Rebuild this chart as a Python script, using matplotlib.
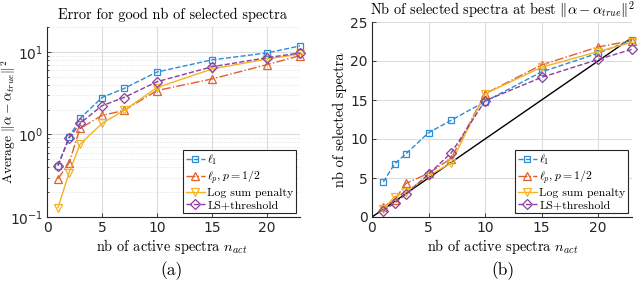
import matplotlib
matplotlib.use("Agg")
import matplotlib.pyplot as plt
import numpy as np

plt.rcParams['mathtext.fontset'] = 'cm'
plt.rcParams['font.family'] = ['DejaVu Sans']
plt.rcParams['axes.unicode_minus'] = False

n_act = [1, 2, 3, 5, 7, 10, 15, 20, 23]

# (a) average error (log scale)
err_l1 = [0.42, 0.92, 1.56, 2.8, 3.6, 5.7, 8.0, 9.7, 11.8]
err_lp = [0.29, 0.45, 1.18, 1.7, 1.95, 3.4, 4.7, 7.0, 9.0]
err_logsum = [0.13, 0.34, 0.76, 1.36, 1.95, 3.7, 6.2, 8.2, 9.4]
err_ls = [0.42, 0.90, 1.36, 2.23, 2.8, 4.35, 6.6, 8.5, 9.7]

# (b) number of selected spectra
sel_l1 = [4.5, 6.8, 8.1, 10.8, 12.4, 14.8, 18.6, 21.0, 22.7]
sel_lp = [1.3, 2.2, 4.3, 5.6, 7.5, 15.8, 19.5, 21.8, 22.6]
sel_logsum = [1.0, 2.6, 3.2, 5.3, 6.9, 15.8, 19.2, 21.2, 22.4]
sel_ls = [0.8, 1.8, 2.9, 5.5, 8.2, 14.9, 17.9, 20.2, 21.5]

labels = [r'$\ell_1$', r'$\ell_p, p=1/2$', 'Log sum penalty', 'LS+threshold']
colors = ['#2b8ed6', '#e0602e', '#f2b326', '#8a3f9e']
styles = ['--', '-.', '-', '--']
markers = ['s', '^', 'v', 'D']
msizes = [5, 6, 6, 5]

SERIF = 'cmr10'
W, H = 640, 308
fig = plt.figure(figsize=(W / 100, H / 100), dpi=100)

def px_axes(l, t, r, b):
    return fig.add_axes([l / W, 1 - b / H, (r - l) / W, (b - t) / H])

def style_axes(ax):
    for s in ['top', 'right']:
        ax.spines[s].set_visible(False)
    for s in ['left', 'bottom']:
        ax.spines[s].set_color('#262626')
        ax.spines[s].set_linewidth(0.8)
    ax.tick_params(direction='in', length=3, width=0.6, labelsize=10, colors='#262626', pad=3)
    ax.tick_params(which='minor', direction='in', length=1.5, width=0.5)
    ax.set_axisbelow(True)

axa = px_axes(47, 27, 300, 217)
axb = px_axes(372, 22, 632, 217)

for ax, data in [(axa, [err_l1, err_lp, err_logsum, err_ls]),
                 (axb, [sel_l1, sel_lp, sel_logsum, sel_ls])]:
    for y, lab, c, ls, m, ms in zip(data, labels, colors, styles, markers, msizes):
        ax.plot(n_act, y, linestyle=ls, color=c, marker=m, markersize=ms,
                markerfacecolor='none', markeredgewidth=0.9, linewidth=1.0,
                label=lab, clip_on=False)
    style_axes(ax)

# (a)
axa.set_yscale('log')
axa.set_xlim(0, 23)
axa.set_ylim(0.1, 20)
axa.set_xticks([0, 5, 10, 15, 20])
axa.grid(True, which='major', color='#dcdcdc', linewidth=0.8)
axa.grid(True, which='minor', color='#dcdcdc', linewidth=0.6, linestyle=':')

# (b)
axb.plot([0, 23], [0, 23], color='black', linewidth=1.0, zorder=1.5)
axb.set_xlim(0, 23)
axb.set_ylim(0, 25)
axb.set_xticks([0, 5, 10, 15, 20])
axb.set_yticks([0, 5, 10, 15, 20, 25])
axb.grid(True, color='#dcdcdc', linewidth=0.8)

for ax in (axa, axb):
    leg = ax.legend(loc='lower right', prop={'family': SERIF, 'size': 8.5},
                    handlelength=1.6, handletextpad=0.2, borderpad=0.25,
                    labelspacing=0.15, fancybox=False, framealpha=1,
                    edgecolor='#262626', borderaxespad=0.3)
    leg.get_frame().set_linewidth(0.8)

fs = 10.3
fig.text(172 / W, 1 - 15 / H, 'Error for good nb of selected spectra', ha='center', va='center',
         family=SERIF, fontsize=fs)
fig.text(503 / W, 1 - 10 / H, r'Nb of selected spectra at best $\|\alpha-\alpha_{true}\|^2$',
         ha='center', va='center', family=SERIF, fontsize=fs)
fig.text(172 / W, 1 - 246 / H, r'nb of active spectra $n_{act}$', ha='center', va='center',
         family=SERIF, fontsize=fs)
fig.text(503 / W, 1 - 246 / H, r'nb of active spectra $n_{act}$', ha='center', va='center',
         family=SERIF, fontsize=fs)
fig.text(9 / W, 1 - 122 / H, r'Average $\|\alpha-\alpha_{true}\|^2$', ha='center', va='center',
         rotation=90, family=SERIF, fontsize=9.8)
fig.text(340 / W, 1 - 120 / H, 'nb of selected spectra', ha='center', va='center',
         rotation=90, family=SERIF, fontsize=fs)
fig.text(172 / W, 1 - 271 / H, '(a)', ha='center', va='center', family=SERIF, fontsize=12.5)
fig.text(503 / W, 1 - 271 / H, '(b)', ha='center', va='center', family=SERIF, fontsize=12.5)

fig.savefig('out.png', dpi=100)
